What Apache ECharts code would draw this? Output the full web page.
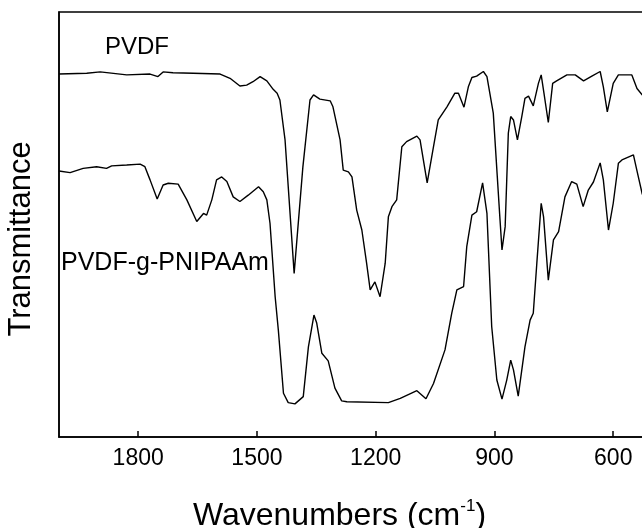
<!DOCTYPE html>
<html>
<head>
<meta charset="utf-8">
<title>FTIR PVDF</title>
<script src="https://cdn.jsdelivr.net/npm/echarts@6.0.0/dist/echarts.min.js"></script>
<style>
    html, body {
        margin: 0;
        padding: 0;
        background: #fff;
    }
    #chart {
        width: 642px;
        height: 528px;
    }
</style>
</head>
<body>
<div id="chart"></div>
<script>
// 波数 (cm-1) 和透过率，从图上读出来的
var pvdfWave = [2000, 1930, 1896, 1829, 1770, 1750, 1737, 1712, 1661, 1593, 1568, 1543, 1526, 1510, 1492, 1475, 1459, 1449, 1442, 1429,
    1406, 1384, 1366, 1357, 1341, 1315, 1308, 1290, 1282, 1269, 1260, 1248, 1235, 1223, 1214, 1202, 1189, 1176, 1168, 1159,
    1147, 1134, 1122, 1096, 1088, 1070, 1054, 1042, 1020, 1000, 991, 977, 966, 957, 945, 928, 919, 903, 886, 881,
    873, 869, 865, 859, 852, 842, 831, 823, 814, 802, 789, 782, 775, 764, 753, 743, 717, 696, 675, 654,
    633, 625, 615, 600, 587, 553, 540, 527, 500];
var pvdfT = [85.4, 85.6, 85.9, 85.2, 85.4, 84.8, 85.9, 85.7, 85.6, 85.4, 84.4, 82.6, 82.8, 83.6, 84.8, 83.8, 81.8, 80.9, 79.3, 69.9,
    38.5, 63.5, 79.3, 80.5, 79.5, 79.1, 77.7, 69.9, 62.8, 62.4, 61.2, 53.4, 48.7, 40.9, 34.6, 36.5, 33.0, 40.9, 51.8, 54.2,
    55.8, 68.3, 69.5, 70.8, 69.9, 59.8, 68.3, 74.6, 77.7, 80.9, 80.9, 77.6, 82.4, 84.6, 84.9, 86.0, 84.8, 76.2, 51.1, 44.0,
    49.5, 60.5, 71.5, 75.4, 74.6, 69.9, 75.4, 79.7, 80.2, 77.9, 83.2, 85.2, 80.9, 74.0, 83.2, 83.8, 85.2, 85.2, 83.8, 84.9,
    86.0, 82.4, 76.5, 83.2, 85.2, 85.2, 82.0, 80.5, 79.0];

var graftWave = [2000, 1972, 1939, 1905, 1880, 1867, 1829, 1795, 1783, 1770, 1752, 1737, 1724, 1699, 1677, 1652, 1635, 1627, 1614, 1602,
    1589, 1576, 1560, 1543, 1522, 1496, 1484, 1475, 1467, 1454, 1446, 1433, 1421, 1404, 1383, 1370, 1356, 1349, 1336, 1320,
    1303, 1286, 1273, 1168, 1138, 1096, 1073, 1054, 1025, 1008, 995, 978, 970, 957, 945, 930, 919, 907, 894, 881,
    869, 859, 852, 840, 823, 810, 802, 793, 782, 776, 764, 751, 738, 722, 705, 692, 676, 663, 650, 633,
    625, 612, 600, 587, 578, 549, 540, 527, 500];
var graftT = [62.6, 62.2, 63.2, 63.6, 63.2, 63.8, 64.0, 64.2, 63.6, 60.5, 56.0, 59.3, 59.7, 59.5, 55.8, 50.7, 52.6, 52.2, 55.8, 60.5,
    61.2, 60.1, 56.5, 55.4, 56.9, 58.9, 57.7, 55.8, 50.3, 33.0, 25.2, 10.3, 8.1, 7.8, 9.5, 21.2, 28.7, 26.8, 19.7, 17.9,
    11.5, 8.5, 8.3, 8.1, 9.1, 10.9, 9.0, 12.6, 20.5, 29.1, 34.6, 35.4, 44.8, 52.2, 53.0, 59.8, 52.6, 26.0, 13.4, 8.9,
    13.4, 18.1, 15.8, 9.6, 21.2, 27.5, 29.1, 40.9, 55.0, 51.8, 36.9, 46.4, 48.3, 56.5, 60.1, 59.5, 54.2, 58.1, 60.0, 64.5,
    60.5, 48.7, 55.0, 64.4, 65.2, 66.4, 62.6, 57.3, 50.0];

var seriesNames = ['PVDF', 'PVDF-g-PNIPAAm'];

var font = 'Liberation Sans, Arial, Helvetica, sans-serif';

function toPairs(xs, ys) {
    var out = [];
    for (var i = 0; i < xs.length; i++) {
        out.push([xs[i], ys[i]]);
    }
    return out;
}

var chart = echarts.init(document.getElementById('chart'));

var option = {
    animation: false,
    backgroundColor: '#fff',
    grid: {
        left: 59,
        top: 12,
        bottom: 91,
        width: 673,   // 右边框在画面外面
        outerBoundsMode: 'none',
        show: true,
        borderColor: '#000',
        borderWidth: 1.5
    },
    xAxis: {
        type: 'value',
        inverse: true,
        min: 300,
        max: 2000,
        interval: 300,
        name: 'Wavenumbers (cm{sup|-1})',
        nameLocation: 'middle',
        nameGap: 61,
        nameMoveOverlap: false,
        nameTextStyle: {
            fontFamily: font,
            fontSize: 32,
            color: '#000',
            lineHeight: 36,
            padding: [0, 112, 0, 0],   // 轴的中点在画面右边，往左挪
            rich: {
                sup: {
                    fontFamily: font,
                    fontSize: 17,
                    color: '#000',
                    verticalAlign: 'top',
                    lineHeight: 22
                }
            }
        },
        axisLine: { lineStyle: { color: '#000', width: 1.5 } },
        axisTick: { inside: true, length: 6, lineStyle: { color: '#000', width: 1.5 } },
        axisLabel: {
            showMaxLabel: false,
            margin: 10,
            fontFamily: font,
            fontSize: 23,
            color: '#000',
            formatter: function (v) {
                return String(v);
            }
        },
        splitLine: { show: false }
    },
    yAxis: {
        type: 'value',
        min: 0,
        max: 100,
        name: 'Transmittance',
        nameLocation: 'middle',
        nameGap: 22,
        nameMoveOverlap: false,
        nameTextStyle: {
            fontFamily: font,
            fontSize: 31,
            color: '#000',
            padding: [0, 29, 0, 0]
        },
        axisLine: { show: true, lineStyle: { color: '#000', width: 1.5 } },
        axisTick: { show: false },
        axisLabel: { show: false },
        splitLine: { show: false }
    },
    graphic: [
        {
            type: 'text',
            left: 105,
            top: 35,
            style: { text: seriesNames[0], font: '24px ' + font, fill: '#000' }
        },
        {
            type: 'text',
            left: 61,
            top: 251,
            style: { text: seriesNames[1], font: '25px ' + font, fill: '#000' }
        }
    ],
    series: [
        {
            name: seriesNames[0],
            type: 'line',
            symbol: 'none',
            data: toPairs(pvdfWave, pvdfT),
            lineStyle: { color: '#000', width: 1.4 }
        },
        {
            name: seriesNames[1],
            type: 'line',
            symbol: 'none',
            data: toPairs(graftWave, graftT),
            lineStyle: { color: '#000', width: 1.4 }
        }
    ]
};

chart.setOption(option);
</script>
</body>
</html>
